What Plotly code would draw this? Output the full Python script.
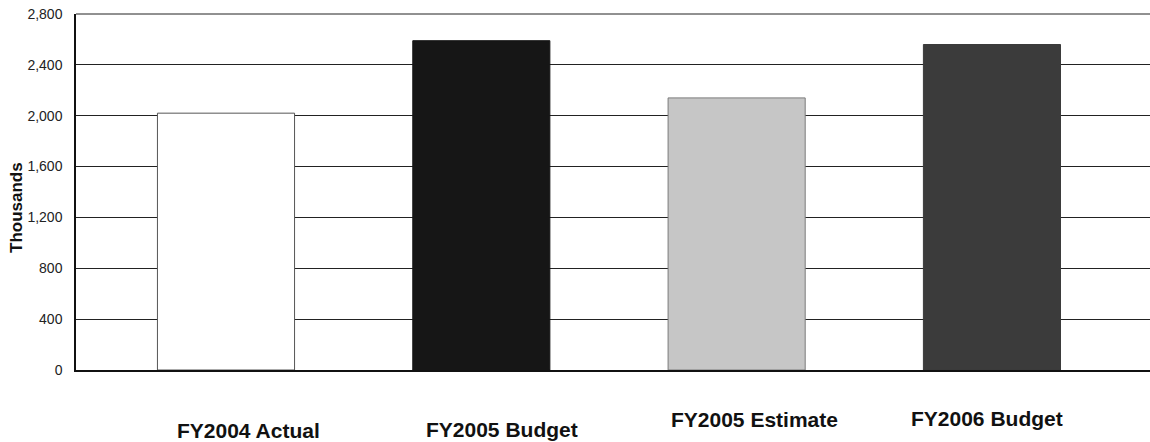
import plotly.graph_objects as go

categories = ["FY2004 Actual", "FY2005 Budget", "FY2005 Estimate", "FY2006 Budget"]
values = [2020, 2590, 2140, 2560]
y_ticks = [0, 400, 800, 1200, 1600, 2000, 2400, 2800]
y_tick_labels = ["0", "400", "800", "1,200", "1,600", "2,000", "2,400", "2,800"]

fill_colors = ["#ffffff", "#161616", "#c6c6c6", "#3b3b3b"]
line_colors = ["#555555", "#161616", "#7a7a7a", "#3b3b3b"]
label_xshift = [22, 21, 18, -5]
label_yshift = [-60, -59, -49, -48]

fig = go.Figure()
fig.add_trace(go.Bar(
    x=list(range(len(categories))),
    y=values,
    width=0.537,
    marker=dict(color=fill_colors, line=dict(color=line_colors, width=1)),
    hoverinfo="skip",
))

for i, cat in enumerate(categories):
    fig.add_annotation(
        x=i, y=0, xref="x", yref="paper",
        text=f"<b>{cat}</b>", showarrow=False,
        xanchor="center", yanchor="middle",
        xshift=label_xshift[i], yshift=label_yshift[i],
        font=dict(family="Liberation Sans, Arial", size=21, color="#111111"),
    )

fig.add_annotation(
    x=0, y=0.5, xref="paper", yref="paper",
    text="<b>Thousands</b>", textangle=-90, showarrow=False,
    xanchor="center", yanchor="middle", xshift=-60, yshift=-16,
    font=dict(family="Liberation Sans, Arial", size=17, color="#111111"),
)

# top border line (2,800 gridline at the edge)
fig.add_shape(type="line", xref="paper", yref="paper", x0=0, x1=1, y0=1, y1=1,
              line=dict(color="#222222", width=1))

fig.update_layout(
    width=1150, height=442,
    margin=dict(l=76, r=0, t=14, b=72),
    paper_bgcolor="white", plot_bgcolor="white",
    showlegend=False,
    xaxis=dict(
        range=[-0.5875, 3.619],
        showticklabels=False, showgrid=False, zeroline=False,
        showline=True, linecolor="#111111", linewidth=2,
        ticks="",
    ),
    yaxis=dict(
        range=[0, 2800],
        tickvals=y_ticks, ticktext=y_tick_labels,
        showgrid=True, gridcolor="#222222", gridwidth=1,
        zeroline=False,
        showline=True, linecolor="#111111", linewidth=1.5,
        ticks="", ticklabelstandoff=9,
        tickfont=dict(family="Liberation Sans, Arial", size=14, color="#222222"),
    ),
)

fig.write_html("out.html")
